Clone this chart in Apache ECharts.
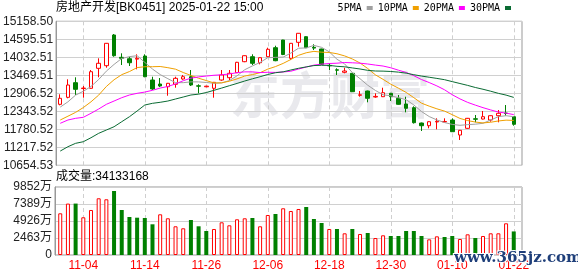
<!DOCTYPE html>
<html><head><meta charset="utf-8">
<script src="https://cdn.jsdelivr.net/npm/echarts@6/dist/echarts.min.js"></script>
<style>html,body{margin:0;padding:0;background:#fff}#c{width:578px;height:276px}</style>
</head><body><div id="c"></div>
<script>
const titleText = '房地产开发[BK0451] 2025-01-22 15:00';
const volTitle = '成交量:34133168';
const dates = ['10-30','10-31','11-01','11-04','11-05','11-06','11-07','11-08','11-11','11-12','11-13','11-14','11-15','11-18','11-19','11-20','11-21','11-22','11-25','11-26','11-27','11-28','11-29','12-02','12-03','12-04','12-05','12-06','12-09','12-10','12-11','12-12','12-13','12-16','12-17','12-18','12-19','12-20','12-23','12-24','12-25','12-26','12-27','12-30','12-31','01-02','01-03','01-06','01-07','01-08','01-09','01-10','01-13','01-14','01-15','01-16','01-17','01-20','01-21','01-22'];
const xTickLabels = ['11-04','11-14','11-26','12-06','12-18','12-30','01-10','01-22'];
const priceTicks = ['10654.53','11217.52','11780.52','12343.52','12906.52','13469.51','14032.51','14595.51','15158.50'];
const volTicks = ['0','2463万','4926万','7389万','9852万'];
const priceMin = 10654.53, priceMax = 15158.50, volMax = 9852;

const open  = [12562,12781,13238,13055,13063,13688,13770,14730,14032,13988, 13975,14073,13322,13197,13113,13188,13354,13425,13140,13110, 13063,13322,13394,13551,13895,14051,13863,14051,14333,14573, 14001,14501,14677,14345,14292,13780,13640,13563,13532,12845, 12978,12790,12800,12906,12750,12572,12456,11977,11893,12010, 12010,12071,11602,11811,12110,12102,12071,12206,12290,12174];
const close = [12750,13166,13031,13070,13582,13845,14470,14082,14001,13863, 14001,13425,13041,13135,13219,13375,13425,13166,13130,13130, 13250,13479,13532,13876,14082,13845,14020,14283,13926,14120, 14470,14783,14333,14320,13813,13765,13630,13604,12956,12860, 12750,12810,12925,12800,12562,12437,11987,11893,12018,12030, 12025,11705,11749,12124,12095,12174,12206,12281,12275,11937];
const low   = [12530,12750,12853,12769,13050,13407,13707,14051,13791,13760, 13657,13410,13009,13103,12831,13081,13330,13135,12906,13100, 12769,13300,13322,13540,13880,13791,13813,14040,13910,14100, 13947,14364,14320,14260,13800,13635,13479,13532,12950,12800, 12625,12769,12790,12665,12550,12312,11960,11727,11811,11780, 12000,11700,11446,11800,11999,12090,12018,11999,12206,11893];
const high  = [12875,13344,13407,13135,13635,14001,14480,14761,14157,14051, 14126,14126,13425,13385,13230,13425,13479,13635,13188,13140, 13260,13635,13635,13890,14090,14126,14030,14333,14395,14580, 14480,14790,14690,14440,14300,13845,13688,13707,13540,12978, 12990,12906,13081,12920,12853,12800,12500,11990,12030,12124, 12124,12124,11760,12135,12228,12353,12215,12384,12540,12180];

const ma5  = [12475,12640,12850,12970,13120,13339,13600,13810,13996,14052, 14083,13874,13666,13493,13364,13239,13239,13264,13263,13245, 13220,13231,13304,13453,13644,13763,13871,14021,14031,14039, 14164,14316,14326,14405,14344,14203,13972,13826,13554,13363, 13160,12996,12860,12829,12769,12707,12542,12336,12179,12073, 11991,11934,11905,11927,11940,11969,12070,12176,12206,12175];
const ma10 = [12071,12190,12310,12460,12640,12850,13120,13330,13490,13586, 13711,13737,13738,13745,13708,13661,13557,13465,13378,13305, 13230,13235,13284,13358,13445,13492,13551,13663,13742,13842, 13964,14094,14174,14218,14192,14184,14144,14076,13980,13854, 13682,13484,13343,13192,13066,12934,12769,12598,12504,12421, 12349,12238,12121,12053,12007,11980,12002,12041,12067,12058];
const ma20 = [11968,12071,12124,12155,12281,12415,12562,12665,12769,12853, 12906,12945,13000,13070,13120,13200,13300,13380,13420,13446, 13471,13486,13511,13552,13577,13577,13554,13564,13560,13574, 13597,13665,13729,13788,13819,13838,13848,13870,13861,13848, 13823,13789,13759,13705,13629,13559,13457,13337,13242,13138, 13016,12861,12732,12623,12537,12457,12386,12320,12286,12240];
const ma30 = [11100,11236,11342,11392,11517,11655,11758,11861,12018,12174, 12353,12540,12593,12625,12665,12728,12790,12853,12880,12930, 13000,13070,13144,13215,13291,13360,13425,13495,13550,13578, 13635,13689,13732,13774,13782,13779,13751,13735,13700,13667, 13625,13604,13600,13589,13568,13537,13488,13446,13409,13372, 13332,13272,13213,13154,13088,13033,12972,12905,12850,12778];

const vol   = [6042,7450,7450,5463,6520,8216,8071,9274,6520,5506, 5405,5361,4448,5897,5318,4159,3869,5072,4159,3478, 3767,4738,4303,5173,5318,5361,4159,5796,5941,6767, 6376,6665,6955,5216,4637,3767,3767,3144,3767,3043, 3188,2463,2854,2753,2753,3478,3478,2753,2270,2705, 2608,2753,2318,2995,2463,2753,3144,3144,4593,3413];
const volUp = [1,1,0,1,1,1,1,0,0,0, 0,0,0,1,1,1,1,0,0,0, 1,1,1,1,1,0,1,1,0,1, 1,1,0,0,0,1,0,1,0,1, 0,1,1,0,0,0,0,0,1,1, 0,0,1,1,0,1,1,1,1,0];

const maNames = ['5PMA','10PMA','20PMA','30PMA'];
const maColors = ['#a0a0a0','#f0a000','#ff00ff','#0a6b33'];

const FONT = 'Liberation Sans, Noto Sans CJK SC, sans-serif';
const RED = '#ff0000', GREEN = '#008000';
const isTick = (i, v) => xTickLabels.indexOf(v) >= 0;

const chart = echarts.init(document.getElementById('c'), null, {renderer: 'canvas'});
const frameL = 55, frameW = 467, dataL = 56.4, dataW = 461.2;
const mainTop = 21.3, mainH = 144, volTop = 187, volH = 68;

chart.setOption({
  animation: false,
  backgroundColor: '#fff',
  title: [
    {text: titleText, left: 56, top: 2, padding: 0, textStyle: {fontSize: 12, fontWeight: 'normal', color: '#000', fontFamily: FONT}},
    {text: volTitle, left: 56, top: 171, padding: 0, textStyle: {fontSize: 12, fontWeight: 'normal', color: '#000', fontFamily: FONT}}
  ],
  legend: {
    right: 67, top: 3, align: 'right', icon: 'rect', itemWidth: 6, itemHeight: 4, itemGap: 5, padding: 0,
    textStyle: {fontFamily: 'DejaVu Sans Mono', fontSize: 10, color: '#000'},
    data: maNames
  },
  graphic: [
    {type: 'text', z: 0, x: 230, y: 70, silent: true,
     style: {text: '东方财富', fontSize: 50, fontWeight: 'bold', fontFamily: 'Noto Sans CJK SC', fill: 'rgba(212,212,220,0.5)'}},
    {type: 'text', z: 100, left: 453, top: 250, silent: true,
     style: {text: 'www.365jz.com', fontSize: 15, fontWeight: 'bold', fill: '#1f3f7a', stroke: '#fff', lineWidth: 2, fontFamily: 'DejaVu Serif'}}
  ],
  grid: [
    {left: frameL, top: mainTop, width: frameW, height: mainH, show: true, borderColor: '#999', borderWidth: 1},
    {left: dataL, top: mainTop, width: dataW, height: mainH},
    {left: frameL, top: volTop, width: frameW, height: volH, show: true, borderColor: '#999', borderWidth: 1},
    {left: dataL, top: volTop, width: dataW, height: volH}
  ],
  xAxis: [
    {gridIndex: 0, type: 'value', show: false},
    {gridIndex: 1, type: 'category', data: dates, boundaryGap: true,
     axisLine: {show: false}, axisTick: {show: false}, axisLabel: {show: false},
     splitLine: {show: true, interval: isTick, alignWithLabel: true, lineStyle: {color: '#cfcfcf', type: [4, 3]}}},
    {gridIndex: 2, type: 'value', show: false},
    {gridIndex: 3, type: 'category', data: dates, boundaryGap: true,
     axisLine: {show: false}, axisTick: {show: false},
     axisLabel: {show: true, interval: isTick, color: RED, fontSize: 12, fontFamily: FONT, margin: 5},
     splitLine: {show: true, interval: isTick, alignWithLabel: true, lineStyle: {color: '#cfcfcf', type: [4, 3]}}}
  ],
  yAxis: [
    {gridIndex: 0, type: 'category', data: priceTicks, boundaryGap: false,
     axisLine: {show: true, lineStyle: {color: '#999'}}, axisTick: {show: false},
     axisLabel: {interval: 0, color: '#222', fontSize: 12, fontFamily: FONT, margin: 3},
     splitLine: {show: true, interval: 0, lineStyle: {color: '#d0d0d0'}}},
    {gridIndex: 1, type: 'value', min: priceMin, max: priceMax, show: false, splitLine: {show: false}},
    {gridIndex: 2, type: 'category', data: volTicks, boundaryGap: false,
     axisLine: {show: true, lineStyle: {color: '#999'}}, axisTick: {show: false},
     axisLabel: {interval: 0, color: '#222', fontSize: 12, fontFamily: FONT, margin: 3},
     splitLine: {show: true, interval: 0, lineStyle: {color: '#d0d0d0'}}},
    {gridIndex: 3, type: 'value', min: 0, max: volMax, show: false, splitLine: {show: false}}
  ],
  series: [
    {type: 'candlestick', name: 'K', xAxisIndex: 1, yAxisIndex: 1, barWidth: 4, z: 5,
     data: dates.map((d, i) => [open[i], close[i], low[i], high[i]]),
     itemStyle: {color: '#fff', color0: GREEN, borderColor: RED, borderColor0: GREEN, borderWidth: 1}},
    ...maNames.map((n, k) => ({
      type: 'line', name: n, xAxisIndex: 1, yAxisIndex: 1, symbol: 'none', showSymbol: false, z: 6,
      data: [ma5, ma10, ma20, ma30][k], color: maColors[k],
      lineStyle: {width: 1, color: maColors[k]}
    })),
    {type: 'bar', name: 'VOL', xAxisIndex: 3, yAxisIndex: 3, barWidth: 4,
     data: vol.map((v, i) => ({value: v, itemStyle: volUp[i] ? {color: '#fff', borderColor: RED, borderWidth: 1} : {color: GREEN, borderColor: GREEN, borderWidth: 0}}))}
  ]
});
</script></body></html>
